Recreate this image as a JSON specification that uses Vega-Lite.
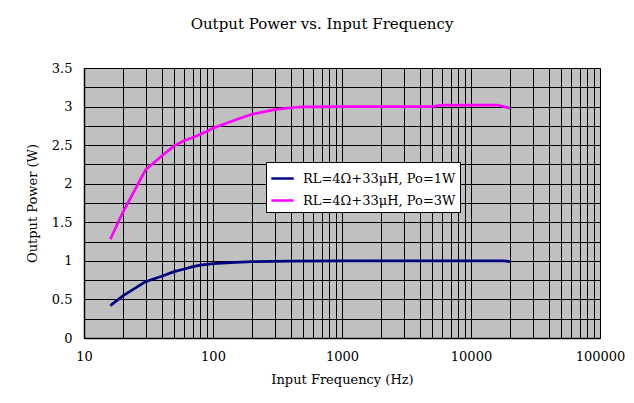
{
  "$schema": "https://vega.github.io/schema/vega-lite/v6.json",
  "width": 516,
  "height": 270,
  "autosize": {"type": "none"},
  "padding": {"left": 84, "top": 68, "right": 34, "bottom": 65},
  "background": "white",
  "title": {
    "text": "Output Power vs. Input Frequency",
    "font": "DejaVu Serif",
    "fontSize": 15,
    "fontWeight": "normal",
    "color": "#000",
    "anchor": "middle",
    "dx": -20,
    "offset": 30
  },
  "data": {
    "values": [
      {"f": 16, "p": 0.42, "s": "RL=4Ω+33μH, Po=1W"},
      {"f": 20, "p": 0.545, "s": "RL=4Ω+33μH, Po=1W"},
      {"f": 30, "p": 0.73, "s": "RL=4Ω+33μH, Po=1W"},
      {"f": 40, "p": 0.8, "s": "RL=4Ω+33μH, Po=1W"},
      {"f": 50, "p": 0.86, "s": "RL=4Ω+33μH, Po=1W"},
      {"f": 60, "p": 0.895, "s": "RL=4Ω+33μH, Po=1W"},
      {"f": 70, "p": 0.925, "s": "RL=4Ω+33μH, Po=1W"},
      {"f": 80, "p": 0.945, "s": "RL=4Ω+33μH, Po=1W"},
      {"f": 100, "p": 0.965, "s": "RL=4Ω+33μH, Po=1W"},
      {"f": 150, "p": 0.98, "s": "RL=4Ω+33μH, Po=1W"},
      {"f": 200, "p": 0.99, "s": "RL=4Ω+33μH, Po=1W"},
      {"f": 400, "p": 0.997, "s": "RL=4Ω+33μH, Po=1W"},
      {"f": 1000, "p": 1.0, "s": "RL=4Ω+33μH, Po=1W"},
      {"f": 5000, "p": 1.0, "s": "RL=4Ω+33μH, Po=1W"},
      {"f": 10000, "p": 1.0, "s": "RL=4Ω+33μH, Po=1W"},
      {"f": 18000, "p": 1.0, "s": "RL=4Ω+33μH, Po=1W"},
      {"f": 20000, "p": 0.99, "s": "RL=4Ω+33μH, Po=1W"},
      {"f": 16, "p": 1.28, "s": "RL=4Ω+33μH, Po=3W"},
      {"f": 20, "p": 1.63, "s": "RL=4Ω+33μH, Po=3W"},
      {"f": 30, "p": 2.18, "s": "RL=4Ω+33μH, Po=3W"},
      {"f": 40, "p": 2.36, "s": "RL=4Ω+33μH, Po=3W"},
      {"f": 50, "p": 2.49, "s": "RL=4Ω+33μH, Po=3W"},
      {"f": 60, "p": 2.56, "s": "RL=4Ω+33μH, Po=3W"},
      {"f": 70, "p": 2.6, "s": "RL=4Ω+33μH, Po=3W"},
      {"f": 80, "p": 2.64, "s": "RL=4Ω+33μH, Po=3W"},
      {"f": 90, "p": 2.68, "s": "RL=4Ω+33μH, Po=3W"},
      {"f": 100, "p": 2.72, "s": "RL=4Ω+33μH, Po=3W"},
      {"f": 150, "p": 2.83, "s": "RL=4Ω+33μH, Po=3W"},
      {"f": 200, "p": 2.9, "s": "RL=4Ω+33μH, Po=3W"},
      {"f": 300, "p": 2.96, "s": "RL=4Ω+33μH, Po=3W"},
      {"f": 400, "p": 2.985, "s": "RL=4Ω+33μH, Po=3W"},
      {"f": 500, "p": 2.995, "s": "RL=4Ω+33μH, Po=3W"},
      {"f": 1000, "p": 3.0, "s": "RL=4Ω+33μH, Po=3W"},
      {"f": 5000, "p": 3.0, "s": "RL=4Ω+33μH, Po=3W"},
      {"f": 6000, "p": 3.02, "s": "RL=4Ω+33μH, Po=3W"},
      {"f": 10000, "p": 3.02, "s": "RL=4Ω+33μH, Po=3W"},
      {"f": 16000, "p": 3.02, "s": "RL=4Ω+33μH, Po=3W"},
      {"f": 18000, "p": 3.0, "s": "RL=4Ω+33μH, Po=3W"},
      {"f": 20000, "p": 2.98, "s": "RL=4Ω+33μH, Po=3W"}
    ]
  },
  "mark": {"type": "line", "strokeWidth": 2.7, "clip": true},
  "encoding": {
    "x": {
      "field": "f",
      "type": "quantitative",
      "scale": {"type": "log", "domain": [10, 100000], "nice": false},
      "axis": {
        "title": "Input Frequency (Hz)",
        "values": [10,20,30,40,50,60,70,80,90,100,200,300,400,500,600,700,800,900,1000,2000,3000,4000,5000,6000,7000,8000,9000,10000,20000,30000,40000,50000,60000,70000,80000,90000,100000],
        "format": "d",
        "labelExpr": "(datum.value==10||datum.value==100||datum.value==1000||datum.value==10000||datum.value==100000)?datum.label:''",
        "ticks": false,
        "labelPadding": 12,
        "titlePadding": 10,
        "labelFlush": false,
        "labelOverlap": false
      }
    },
    "y": {
      "field": "p",
      "type": "quantitative",
      "scale": {"domain": [0, 3.5], "nice": false},
      "axis": {
        "title": "Output Power (W)",
        "values": [0,0.25,0.5,0.75,1,1.25,1.5,1.75,2,2.25,2.5,2.75,3,3.25,3.5],
        "labelExpr": "datum.value % 0.5 == 0 ? toString(datum.value) : ''",
        "ticks": false,
        "labelPadding": 12,
        "titlePadding": 12,
        "labelOverlap": false,
        "labelFlush": false
      }
    },
    "color": {
      "field": "s",
      "type": "nominal",
      "scale": {"domain": ["RL=4Ω+33μH, Po=1W", "RL=4Ω+33μH, Po=3W"], "range": ["#000080", "#FF00FF"]},
      "legend": {
        "title": null,
        "orient": "none",
        "legendX": 182,
        "legendY": 94,
        "fillColor": "white",
        "strokeColor": "#000",
        "padding": 4,
        "symbolType": "stroke",
        "symbolSize": 500,
        "symbolStrokeWidth": 2.5,
        "labelFont": "DejaVu Serif",
        "labelFontSize": 13,
        "labelOffset": 8,
        "labelColor": "#000",
        "rowPadding": 2,
        "labelLimit": 300
      }
    }
  },
  "config": {
    "view": {"fill": "#C0C0C0", "stroke": "#808080", "strokeWidth": 1},
    "axis": {
      "labelFont": "DejaVu Serif",
      "labelFontSize": 13,
      "labelColor": "#000",
      "titleFont": "DejaVu Serif",
      "titleFontSize": 13,
      "titleFontWeight": "normal",
      "titleColor": "#000",
      "grid": true,
      "gridColor": "#000",
      "gridOpacity": 1,
      "gridWidth": 1,
      "domainColor": "#000",
      "domainWidth": 1.5
    }
  }
}
